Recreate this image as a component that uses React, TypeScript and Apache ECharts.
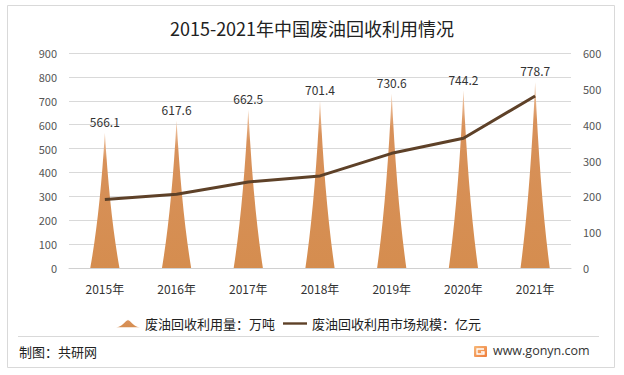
import React, { useEffect, useRef } from "react";
import * as echarts from "echarts";

const categories = ["2015年", "2016年", "2017年", "2018年", "2019年", "2020年", "2021年"];
const volumeValues = [566.1, 617.6, 662.5, 701.4, 730.6, 744.2, 778.7];
const marketValues = [191, 206, 240, 257, 320, 362, 480];
const volumeName = "废油回收利用量：万吨";
const marketName = "废油回收利用市场规模：亿元";
const titleText = "2015-2021年中国废油回收利用情况";
const footerText = "制图：共研网";
const siteText = "www.gonyn.com";

const spike = "path://M0,100 Q10,60 15,0 Q20,60 30,100 Z";
const FONT = "'Noto Sans CJK SC', 'Microsoft YaHei', sans-serif";

export default function App() {
  const ref = useRef<HTMLDivElement>(null);
  useEffect(() => {
    document.body.style.margin = "0";
    const chart = echarts.init(ref.current!, null, { renderer: "svg" });
    chart.setOption({
      animation: false,
      backgroundColor: "#ffffff",
      textStyle: { fontFamily: FONT },
      title: {
        text: titleText,
        left: "center",
        top: 14,
        textStyle: { fontSize: 18, fontWeight: "normal", color: "#222", fontFamily: FONT },
      },
      legend: {
        bottom: 40,
        left: 111,
        itemGap: 8,
        itemWidth: 24,
        itemHeight: 10,
        textStyle: { fontSize: 13, color: "#222", fontFamily: FONT },
        data: [
          { name: volumeName, icon: "path://M0,10 C8,10 12,2 16,0 C20,2 24,10 32,10 Z" },
          { name: marketName, icon: "path://M0,0 L30,0 L30,3 L0,3 Z" },
        ],
      },
      grid: { left: 69, right: 53, top: 53, bottom: 107 },
      xAxis: {
        type: "category",
        data: categories,
        axisLine: { lineStyle: { color: "#d0d0d0" } },
        axisTick: { show: false },
        axisLabel: { color: "#333", fontSize: 12, margin: 14, fontFamily: FONT },
      },
      yAxis: [
        {
          type: "value",
          min: 0,
          max: 900,
          interval: 100,
          axisLine: { show: false },
          axisTick: { show: false },
          axisLabel: { color: "#555", fontSize: 11, margin: 12 },
          splitLine: { lineStyle: { color: "#d9d9d9" } },
        },
        {
          type: "value",
          min: 0,
          max: 600,
          interval: 100,
          axisLine: { show: false },
          axisTick: { show: false },
          axisLabel: { color: "#555", fontSize: 11, margin: 12 },
          splitLine: { show: false },
        },
      ],
      series: [
        {
          name: volumeName,
          type: "pictorialBar",
          symbol: spike,
          symbolSize: [29, "100%"],
          data: volumeValues,
          itemStyle: {
            color: new echarts.graphic.LinearGradient(0, 0, 0, 1, [
              { offset: 0, color: "#F2CDB0" },
              { offset: 0.2, color: "#D8915A" },
              { offset: 1, color: "#D58D4F" },
            ]),
          },
          label: {
            show: true,
            position: "top",
            distance: 5,
            color: "#333",
            fontSize: 12,
          },
          z: 2,
        },
        {
          name: marketName,
          type: "line",
          yAxisIndex: 1,
          data: marketValues,
          symbol: "none",
          lineStyle: { color: "#5E4128", width: 3 },
          itemStyle: { color: "#5E4128" },
          z: 3,
        },
      ],
      graphic: [
        {
          type: "rect",
          shape: { x: 7.5, y: 5.5, width: 607, height: 362 },
          style: { fill: "none", stroke: "#d9d9d9", lineWidth: 1 },
          silent: true,
        },
        {
          type: "line",
          shape: { x1: 18, y1: 336.5, x2: 599, y2: 336.5 },
          style: { stroke: "#d9d9d9", lineWidth: 1 },
          silent: true,
        },
        {
          type: "text",
          left: 19,
          top: 345,
          style: { text: footerText, fontSize: 13, fill: "#222", fontFamily: FONT },
        },
        {
          type: "rect",
          shape: { x: 474, y: 346, width: 13, height: 11, r: 1 },
          style: {
            fill: new echarts.graphic.LinearGradient(0, 0, 1, 1, [
              { offset: 0, color: "#F7B878" },
              { offset: 1, color: "#EE7B3A" },
            ]),
          },
        },
        {
          type: "polyline",
          shape: { points: [[484, 349], [477, 349], [477, 354], [484, 354], [484, 352], [481, 352]] },
          style: { stroke: "#ffffff", lineWidth: 1.3, fill: "none" },
        },
        {
          type: "text",
          left: 493,
          top: 344,
          style: { text: siteText, fontSize: 12.5, fill: "#333", fontFamily: "'Open Sans', sans-serif" },
        },
      ],
    });
    return () => chart.dispose();
  }, []);
  return <div ref={ref} style={{ width: 624, height: 375 }} />;
}
